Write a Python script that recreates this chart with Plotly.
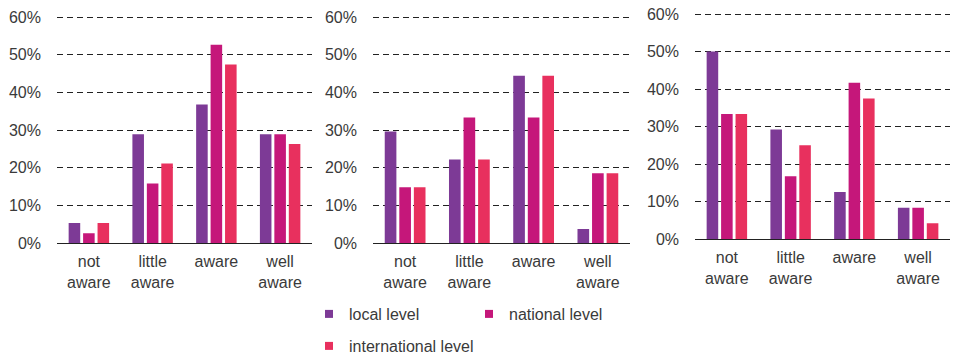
import plotly.graph_objects as go

categories = ["not<br>aware", "little<br>aware", "aware", "well<br>aware"]
series_names = ["local level", "national level", "international level"]
colors = ["#7D3A96", "#C5177A", "#E8305E"]

# panel 1 (n=38)
p1_local = [0.053, 0.289, 0.368, 0.289]
p1_national = [0.026, 0.158, 0.526, 0.289]
p1_international = [0.053, 0.211, 0.474, 0.263]
# panel 2 (n=27)
p2_local = [0.296, 0.222, 0.444, 0.037]
p2_national = [0.148, 0.333, 0.333, 0.185]
p2_international = [0.148, 0.222, 0.444, 0.185]
# panel 3 (n=24)
p3_local = [0.500, 0.292, 0.125, 0.083]
p3_national = [0.333, 0.167, 0.417, 0.083]
p3_international = [0.333, 0.250, 0.375, 0.042]

tick_vals = [0, 0.1, 0.2, 0.3, 0.4, 0.5, 0.6]

panels = [
    [p1_local, p1_national, p1_international],
    [p2_local, p2_national, p2_international],
    [p3_local, p3_national, p3_international],
]

W, H = 953, 357
xdomains = [(57, 312), (373, 630), (695, 950)]
# (pixel of 0%, pixel of 60%)
ypix = [(243, 17), (243, 17), (239, 14)]
RMAX = 0.606

fig = go.Figure()
for i, panel in enumerate(panels):
    ax = "" if i == 0 else str(i + 1)
    for j, vals in enumerate(panel):
        fig.add_trace(go.Bar(
            x=categories, y=vals, name=series_names[j],
            marker=dict(color=colors[j], line=dict(width=0)),
            xaxis="x" + ax, yaxis="y" + ax, showlegend=False,
        ))

# legend entries
for j, name in enumerate(series_names):
    fig.add_trace(go.Scatter(
        x=[None], y=[None], mode="markers", name=name,
        marker=dict(symbol="square", size=8, color=colors[j]),
        legend="legend" if j < 2 else "legend2",
    ))

TXT = "#3A3A3A"
FS = 16
font = dict(family="Liberation Sans, Arial, sans-serif", size=FS, color=TXT)
layout = dict(
    width=W, height=H, margin=dict(l=0, r=0, t=0, b=0, autoexpand=False),
    paper_bgcolor="white", plot_bgcolor="white",
    barmode="group", bargap=0.32, bargroupgap=0.2,
    font=font,
    legend=dict(orientation="h", x=309 / W, y=1 - 297 / H, xanchor="left", yanchor="top",
                font=dict(size=FS, color=TXT), entrywidth=115, entrywidthmode="pixels",
                itemwidth=30, tracegroupgap=0, bgcolor="rgba(0,0,0,0)"),
    legend2=dict(orientation="h", x=309 / W, y=1 - 329 / H, xanchor="left", yanchor="top",
                 font=dict(size=FS, color=TXT), itemwidth=30, bgcolor="rgba(0,0,0,0)"),
)
for i in range(3):
    ax = "" if i == 0 else str(i + 1)
    x0, x1 = xdomains[i]
    y0, y60 = ypix[i]
    ytop = y60 - (RMAX - 0.6) / 0.6 * (y0 - y60)
    layout["xaxis" + ax] = dict(
        domain=[x0 / W, x1 / W], anchor="y" + ax, showgrid=False,
        showline=True, linecolor="#222222", linewidth=1.2,
        ticks="", ticklabelstandoff=4, tickfont=dict(size=FS, color=TXT),
        fixedrange=True, automargin=False,
    )
    layout["yaxis" + ax] = dict(
        domain=[1 - y0 / H, 1 - ytop / H], anchor="x" + ax,
        range=[0, RMAX], tickvals=tick_vals,
        tickformat=".0%", showgrid=True, gridcolor="#222222", griddash="6px,4px",
        gridwidth=1.2, zeroline=False, showline=False, ticks="",
        ticklabelstandoff=15, tickfont=dict(size=FS, color=TXT),
        fixedrange=True, automargin=False,
    )
fig.update_layout(**layout)
fig.write_html("out.html")
